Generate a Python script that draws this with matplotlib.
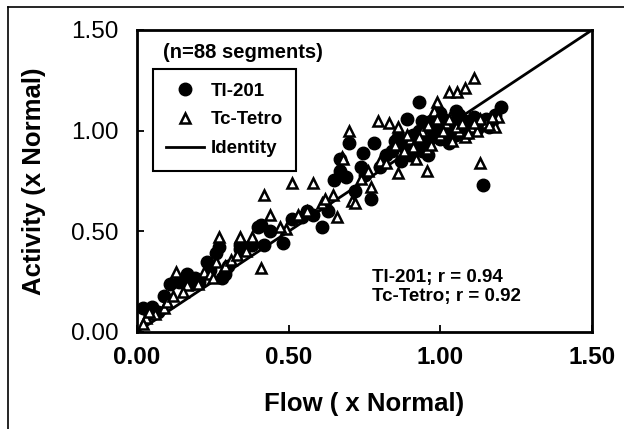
import matplotlib
matplotlib.use("Agg")
import matplotlib.pyplot as plt
from matplotlib.lines import Line2D

plt.rcParams['font.family'] = ['Liberation Sans', 'DejaVu Sans']

# ---- data (flow, activity) ----
tl_flow = [0.02, 0.05, 0.07, 0.04, 0.09, 0.11, 0.14, 0.165, 0.19, 0.205,
           0.23, 0.24, 0.26, 0.27, 0.28, 0.29, 0.34, 0.34, 0.35, 0.38,
           0.40, 0.41, 0.42, 0.48, 0.51, 0.545, 0.58, 0.61, 0.63, 0.65,
           0.67, 0.69, 0.67, 0.70, 0.745, 0.78, 0.77, 0.72, 0.75, 0.80,
           0.82, 0.85, 0.89, 0.93, 0.84, 0.87, 0.88, 0.90, 0.91, 0.92,
           0.93, 0.94, 0.95, 0.96, 0.97, 0.98, 0.99, 1.00, 1.01, 1.02,
           1.03, 1.04, 1.05, 1.06, 1.07, 1.08, 1.09, 1.10, 1.11, 1.12,
           1.13, 1.14, 1.15, 1.16, 1.17, 1.18, 1.20, 1.14, 0.86, 0.96,
           1.00, 0.30, 0.18, 0.44, 0.56, 0.74, 1.05, 0.94]
tl_act = [0.12, 0.125, 0.10, 0.10, 0.18, 0.24, 0.25, 0.29, 0.27, 0.25,
          0.35, 0.31, 0.39, 0.42, 0.27, 0.29, 0.41, 0.43, 0.42, 0.43,
          0.52, 0.53, 0.43, 0.44, 0.56, 0.57, 0.58, 0.52, 0.60, 0.755,
          0.80, 0.77, 0.86, 0.94, 0.89, 0.94, 0.66, 0.70, 0.78, 0.82,
          0.88, 0.95, 1.06, 1.14, 0.90, 0.85, 0.92, 0.88, 0.98, 0.93,
          1.00, 0.90, 1.02, 0.95, 1.05, 0.98, 1.02, 0.96, 1.06, 1.00,
          0.94, 1.04, 0.98, 1.08, 1.02, 1.05, 0.99, 1.04, 1.07, 1.01,
          1.05, 1.03, 1.06, 1.02, 1.05, 1.08, 1.12, 0.73, 0.97, 0.88,
          1.09, 0.33, 0.24, 0.50, 0.60, 0.82, 1.10, 1.05]

tc_flow = [0.03, 0.06, 0.09, 0.13, 0.165, 0.15, 0.22, 0.26, 0.29, 0.31,
           0.27, 0.34, 0.38, 0.41, 0.42, 0.44, 0.49, 0.51, 0.58, 0.61,
           0.645, 0.66, 0.71, 0.72, 0.675, 0.68, 0.70, 0.795, 0.83, 0.86,
           0.86, 0.955, 0.955, 0.99, 1.03, 1.055, 1.08, 1.11, 1.13, 1.19,
           0.77, 0.80, 0.88, 0.90, 0.92, 0.94, 0.97, 1.00, 1.02, 1.04,
           1.06, 1.08, 1.10, 1.12, 1.15, 1.18, 0.98, 0.36, 0.20, 0.24,
           0.10, 0.04, 0.56, 0.74, 0.85, 0.02, 0.25, 0.47, 0.62, 0.76,
           0.82, 0.91, 0.93, 0.96, 1.01, 1.03, 1.05, 1.07, 1.09, 1.13,
           1.16, 1.17, 0.89, 0.99, 1.11, 0.53, 0.33, 0.12]
tc_act = [0.07, 0.09, 0.12, 0.30, 0.235, 0.20, 0.30, 0.35, 0.33, 0.36,
          0.47, 0.47, 0.47, 0.32, 0.68, 0.58, 0.51, 0.74, 0.74, 0.64,
          0.68, 0.57, 0.65, 0.64, 0.87, 0.86, 1.00, 1.05, 1.04, 1.02,
          0.79, 0.80, 0.91, 1.14, 1.19, 1.19, 1.21, 1.26, 0.84, 1.07,
          0.72, 0.85, 0.90, 0.96, 0.86, 1.00, 0.93, 0.98, 1.04, 0.95,
          1.00, 0.97, 1.02, 1.00, 1.04, 1.02, 1.10, 0.40, 0.24, 0.29,
          0.15, 0.10, 0.60, 0.76, 0.93, 0.04, 0.27, 0.52, 0.66, 0.80,
          0.84, 0.92, 0.97, 1.03, 1.00, 1.06, 1.02, 1.04, 0.99, 1.06,
          1.03, 1.07, 0.98, 1.06, 1.04, 0.58, 0.38, 0.18]

identity = [0.0, 1.5]
ticks = [0.0, 0.5, 1.0, 1.5]

fig = plt.figure(figsize=(6.24, 4.29), dpi=100)
ax = fig.add_axes([137/624, 1 - 332/429, 455/624, 302/429])

ax.plot(identity, identity, color='black', lw=2.0, label='Identity', zorder=2)
ax.plot(tl_flow, tl_act, 'o', ms=9, mfc='black', mec='black', ls='none',
        label='Tl-201', zorder=3)
ax.plot(tc_flow, tc_act, '^', ms=7.5, mfc='white', mec='black', mew=1.8,
        ls='none', label='Tc-Tetro', zorder=4)

ax.set_xlim(0, 1.5)
ax.set_ylim(0, 1.5)
ax.set_xticks(ticks)
ax.set_yticks(ticks)
ax.set_xticklabels([f"{t:.2f}" for t in ticks], fontsize=17.5, fontweight='bold')
ax.set_yticklabels([f"{t:.2f}" for t in ticks], fontsize=17.5)
ax.tick_params(direction='in', length=5, width=1.3)
ax.tick_params(axis='x', pad=10)
ax.tick_params(axis='y', pad=13)
for s in ax.spines.values():
    s.set_linewidth(2.0)

ax.set_xlabel('Flow ( x Normal)', fontsize=18.5, fontweight='bold', labelpad=17)
ax.set_ylabel('Activity (x Normal)', fontsize=18.5, fontweight='bold', labelpad=18)

handles, labels = ax.get_legend_handles_labels()
order = [1, 2, 0]
leg = ax.legend([handles[i] for i in order], [labels[i] for i in order],
                loc='upper left', bbox_to_anchor=(0.035, 0.871),
                borderaxespad=0, fancybox=False, edgecolor='black',
                framealpha=1, handlelength=2.0, handletextpad=0.35,
                labelspacing=0.62, borderpad=0.72,
                prop={'weight': 'bold', 'size': 13.5})
leg.get_frame().set_linewidth(1.5)

ax.text(0.057, 0.927, '(n=88 segments)', transform=ax.transAxes,
        fontsize=14.5, fontweight='bold', va='center', ha='left')
ax.text(0.516, 0.182, 'Tl-201; r = 0.94', transform=ax.transAxes,
        fontsize=13.5, fontweight='bold', va='center', ha='left')
ax.text(0.516, 0.119, 'Tc-Tetro; r = 0.92', transform=ax.transAxes,
        fontsize=13.5, fontweight='bold', va='center', ha='left')

# outer frame (left and top edges visible in the scan)
fig.add_artist(Line2D([7.5/624, 7.5/624], [0, 1 - 6.5/429], color='black', lw=1.2))
fig.add_artist(Line2D([7.5/624, 1], [1 - 6.5/429, 1 - 6.5/429], color='black', lw=1.2))

fig.savefig('out.png', dpi=100)
